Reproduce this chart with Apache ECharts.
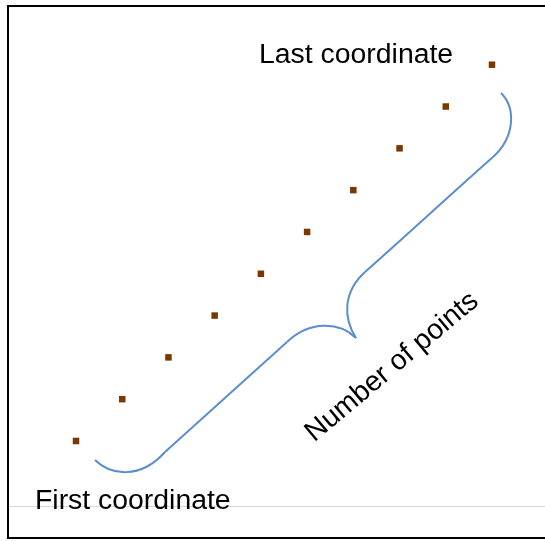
<!DOCTYPE html>
<html>
<head>
<meta charset="utf-8">
<script src="https://cdn.jsdelivr.net/npm/echarts@6/dist/echarts.min.js"></script>
<style>
  html, body { margin: 0; padding: 0; background: #fff; }
  #chart { width: 545px; height: 541px; }
</style>
</head>
<body>
<div id="chart"></div>
<script>
// point index along x and y (evenly spaced diagonal of points)
const xValues = [1, 2, 3, 4, 5, 6, 7, 8, 9, 10];
const yValues = [1, 2, 3, 4, 5, 6, 7, 8, 9, 10];
const labelFirst = 'First coordinate';
const labelLast = 'Last coordinate';
const labelCount = 'Number of points';

const points = xValues.map((x, i) => [x, yValues[i]]);

const chart = echarts.init(document.getElementById('chart'));

const textFont = '28.4px "Liberation Sans", Arial, sans-serif';
const braceStyle = { fill: null, stroke: '#5b8dd0', lineWidth: 2 };

// brace pieces: [x1, y1, cpx1, cpy1, cpx2, cpy2, x2, y2]
const braceCurves = [
  [95, 460, 110, 475, 140, 480, 165, 452],
  [165, 452, 205, 416, 246, 379, 287, 342],
  [287, 342, 310, 320, 340, 322, 356, 338],
  [356, 338, 343, 318, 343, 292, 365, 272],
  [365, 272, 408, 234, 450, 195, 493, 157],
  [493, 157, 515, 137, 516, 108, 501, 93]
];

chart.setOption({
  animation: false,
  grid: { left: 29.8, right: 6.8, top: 22.9, bottom: 58.2 },
  xAxis: { type: 'value', min: 0, max: 11, show: false },
  yAxis: { type: 'value', min: 0, max: 11, show: false },
  series: [
    {
      type: 'scatter',
      data: points,
      symbol: 'rect',
      symbolSize: 6.5,
      itemStyle: { color: '#7a3800', opacity: 1 }
    }
  ],
  graphic: [
    // frame (no right edge visible)
    {
      type: 'rect',
      shape: { x: 8, y: 6, width: 600, height: 532 },
      style: { fill: null, stroke: '#000', lineWidth: 2 },
      silent: true
    },
    {
      type: 'line',
      shape: { x1: 9, y1: 506.5, x2: 545, y2: 506.5 },
      style: { stroke: '#d9d9d9', lineWidth: 1 },
      silent: true
    },
    ...braceCurves.map(c => ({
      type: 'bezierCurve',
      shape: { x1: c[0], y1: c[1], cpx1: c[2], cpy1: c[3], cpx2: c[4], cpy2: c[5], x2: c[6], y2: c[7] },
      style: braceStyle,
      silent: true
    })),
    {
      type: 'text',
      x: 259, y: 55.2,
      style: { text: labelLast, font: textFont, fill: '#000', align: 'left', verticalAlign: 'middle' }
    },
    {
      type: 'text',
      x: 35, y: 501.2,
      style: { text: labelFirst, font: textFont, fill: '#000', align: 'left', verticalAlign: 'middle' }
    },
    {
      type: 'text',
      x: 392, y: 367,
      rotation: 40 * Math.PI / 180,
      style: { text: labelCount, font: textFont, fill: '#000', align: 'center', verticalAlign: 'middle' }
    }
  ]
});
</script>
</body>
</html>
